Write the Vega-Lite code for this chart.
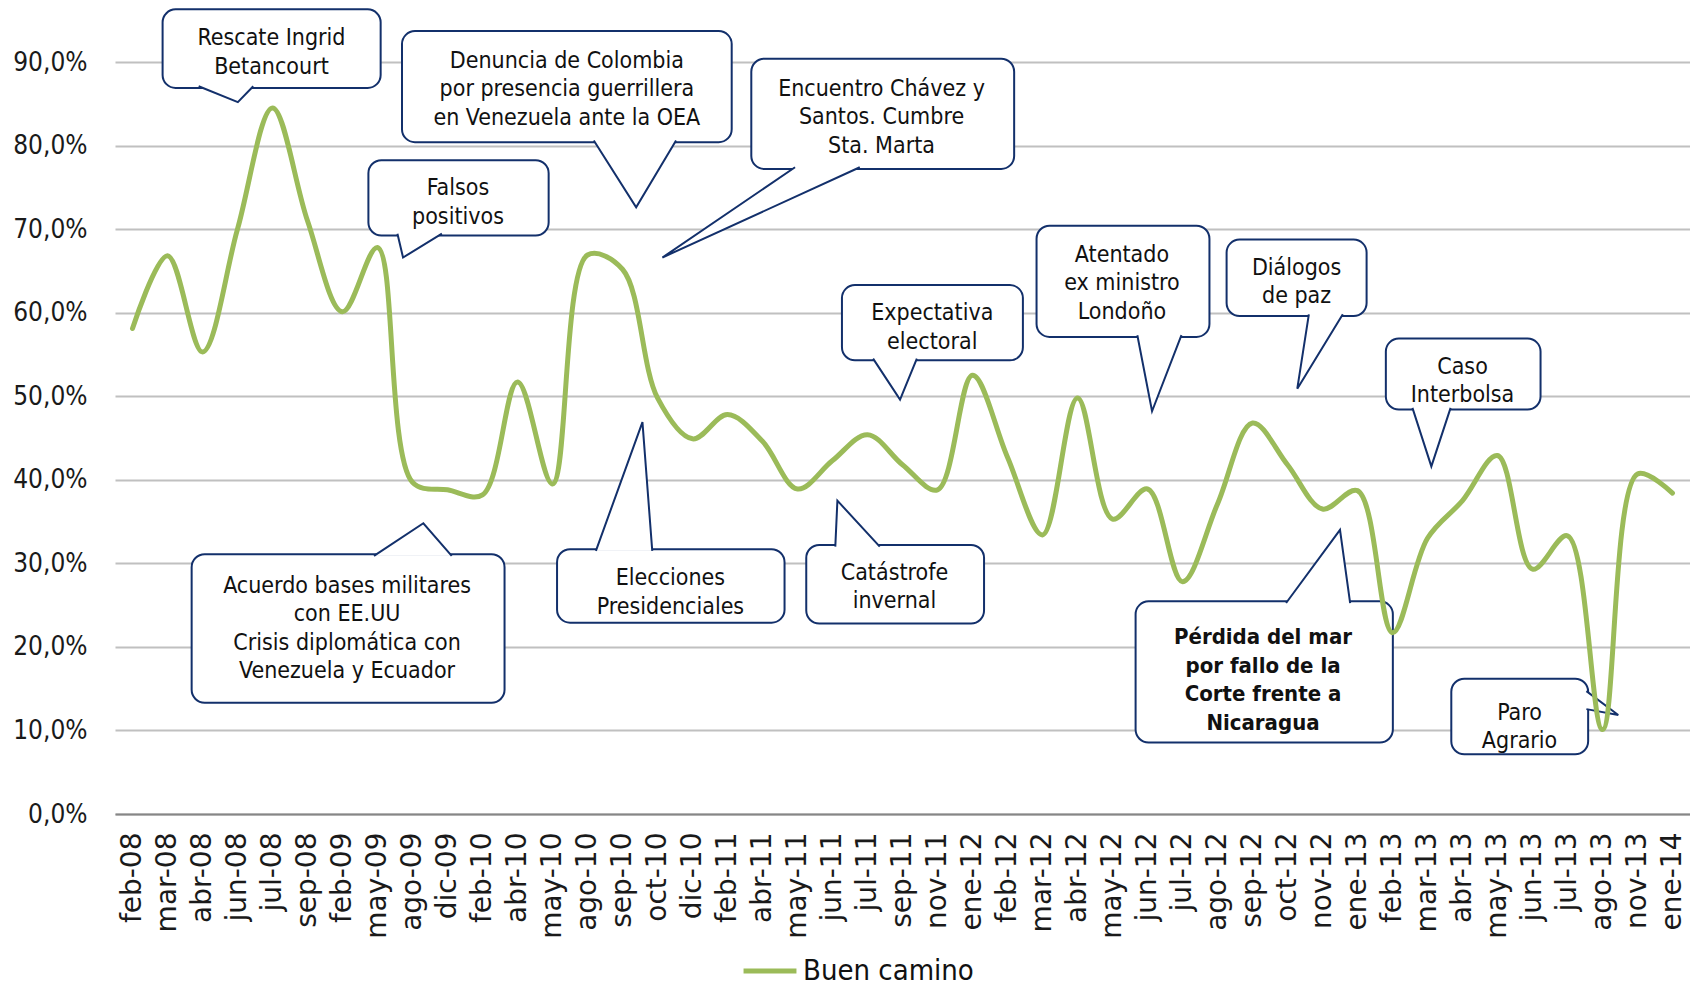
{
  "$schema": "https://vega.github.io/schema/vega-lite/v6.json",
  "width": 1575,
  "height": 752,
  "autosize": {"type": "none"},
  "padding": {"left": 115, "top": 62, "right": 0, "bottom": 172},
  "background": "white",
  "config": {
    "view": {"stroke": null},
    "axisY": {"labelFont": "DejaVu Sans Condensed", "labelFontSize": 26, "labelColor": "#1a1a1a", "labelPadding": 28, "ticks": false, "domain": false, "gridColor": "#C0C0C0", "gridWidth": 2, "title": null},
    "axisX": {"labelFont": "DejaVu Sans", "labelFontSize": 28, "labelColor": "#1a1a1a", "labelAngle": 270, "labelPadding": 18, "ticks": false, "domainColor": "#868686", "domainWidth": 2, "grid": false, "title": null, "labelOverlap": false}
  },
  "datasets": {
    "serie": [
      {"mes": "feb-08", "valor": 58.1, "serie": "Buen camino"},
      {"mes": "mar-08", "valor": 66.8, "serie": "Buen camino"},
      {"mes": "abr-08", "valor": 55.3, "serie": "Buen camino"},
      {"mes": "jun-08", "valor": 70.0, "serie": "Buen camino"},
      {"mes": "jul-08", "valor": 84.5, "serie": "Buen camino"},
      {"mes": "sep-08", "valor": 71.0, "serie": "Buen camino"},
      {"mes": "feb-09", "valor": 60.1, "serie": "Buen camino"},
      {"mes": "may-09", "valor": 67.8, "serie": "Buen camino"},
      {"mes": "ago-09", "valor": 39.7, "serie": "Buen camino"},
      {"mes": "dic-09", "valor": 38.8, "serie": "Buen camino"},
      {"mes": "feb-10", "valor": 38.2, "serie": "Buen camino"},
      {"mes": "abr-10", "valor": 51.7, "serie": "Buen camino"},
      {"mes": "may-10", "valor": 39.5, "serie": "Buen camino"},
      {"mes": "ago-10", "valor": 66.9, "serie": "Buen camino"},
      {"mes": "sep-10", "valor": 65.2, "serie": "Buen camino"},
      {"mes": "oct-10", "valor": 49.8, "serie": "Buen camino"},
      {"mes": "dic-10", "valor": 44.9, "serie": "Buen camino"},
      {"mes": "feb-11", "valor": 47.8, "serie": "Buen camino"},
      {"mes": "abr-11", "valor": 44.6, "serie": "Buen camino"},
      {"mes": "may-11", "valor": 38.9, "serie": "Buen camino"},
      {"mes": "jun-11", "valor": 42.3, "serie": "Buen camino"},
      {"mes": "jul-11", "valor": 45.4, "serie": "Buen camino"},
      {"mes": "sep-11", "valor": 41.8, "serie": "Buen camino"},
      {"mes": "nov-11", "valor": 38.8, "serie": "Buen camino"},
      {"mes": "ene-12", "valor": 52.5, "serie": "Buen camino"},
      {"mes": "feb-12", "valor": 42.7, "serie": "Buen camino"},
      {"mes": "mar-12", "valor": 33.4, "serie": "Buen camino"},
      {"mes": "abr-12", "valor": 49.8, "serie": "Buen camino"},
      {"mes": "may-12", "valor": 35.3, "serie": "Buen camino"},
      {"mes": "jun-12", "valor": 38.9, "serie": "Buen camino"},
      {"mes": "jul-12", "valor": 27.8, "serie": "Buen camino"},
      {"mes": "ago-12", "valor": 37.1, "serie": "Buen camino"},
      {"mes": "sep-12", "valor": 46.8, "serie": "Buen camino"},
      {"mes": "oct-12", "valor": 41.8, "serie": "Buen camino"},
      {"mes": "nov-12", "valor": 36.5, "serie": "Buen camino"},
      {"mes": "ene-13", "valor": 38.7, "serie": "Buen camino"},
      {"mes": "feb-13", "valor": 21.7, "serie": "Buen camino"},
      {"mes": "mar-13", "valor": 33.0, "serie": "Buen camino"},
      {"mes": "abr-13", "valor": 37.5, "serie": "Buen camino"},
      {"mes": "may-13", "valor": 42.9, "serie": "Buen camino"},
      {"mes": "jun-13", "valor": 29.3, "serie": "Buen camino"},
      {"mes": "jul-13", "valor": 33.3, "serie": "Buen camino"},
      {"mes": "ago-13", "valor": 10.1, "serie": "Buen camino"},
      {"mes": "nov-13", "valor": 40.7, "serie": "Buen camino"},
      {"mes": "ene-14", "valor": 38.4, "serie": "Buen camino"}
    ],
    "cajas": [
      {"id": 1, "x1": 0.86, "x2": 7.09, "y1": 96.3, "y2": 86.9},
      {"id": 2, "x1": 7.70, "x2": 17.12, "y1": 93.7, "y2": 80.4},
      {"id": 3, "x1": 17.68, "x2": 25.19, "y1": 90.4, "y2": 77.2},
      {"id": 4, "x1": 6.74, "x2": 11.89, "y1": 78.25, "y2": 69.23},
      {"id": 5, "x1": 1.69, "x2": 10.63, "y1": 31.1, "y2": 13.3},
      {"id": 6, "x1": 12.13, "x2": 18.63, "y1": 31.7, "y2": 22.9},
      {"id": 7, "x1": 19.25, "x2": 24.33, "y1": 32.2, "y2": 22.8},
      {"id": 8, "x1": 20.27, "x2": 25.44, "y1": 63.3, "y2": 54.3},
      {"id": 9, "x1": 25.83, "x2": 30.77, "y1": 70.4, "y2": 57.1},
      {"id": 10, "x1": 31.26, "x2": 35.26, "y1": 68.75, "y2": 59.6},
      {"id": 11, "x1": 35.81, "x2": 40.23, "y1": 56.9, "y2": 48.4},
      {"id": 12, "x1": 28.66, "x2": 36.01, "y1": 25.45, "y2": 8.55},
      {"id": 13, "x1": 37.68, "x2": 41.59, "y1": 16.2, "y2": 7.15}
    ],
    "puntas": [
      {"id": 1, "orden": 0, "x": 1.89, "y": 87.1}, {"id": 1, "orden": 1, "x": 3.01, "y": 85.2}, {"id": 1, "orden": 2, "x": 3.45, "y": 87.1},
      {"id": 2, "orden": 0, "x": 13.18, "y": 80.6}, {"id": 2, "orden": 1, "x": 14.39, "y": 72.6}, {"id": 2, "orden": 2, "x": 15.53, "y": 80.6},
      {"id": 3, "orden": 0, "x": 18.93, "y": 77.4}, {"id": 3, "orden": 1, "x": 15.14, "y": 66.6}, {"id": 3, "orden": 2, "x": 20.78, "y": 77.4},
      {"id": 4, "orden": 0, "x": 7.57, "y": 69.45}, {"id": 4, "orden": 1, "x": 7.73, "y": 66.6}, {"id": 4, "orden": 2, "x": 8.84, "y": 69.45},
      {"id": 5, "orden": 0, "x": 6.90, "y": 30.9}, {"id": 5, "orden": 1, "x": 8.31, "y": 34.8}, {"id": 5, "orden": 2, "x": 9.12, "y": 30.9},
      {"id": 6, "orden": 0, "x": 13.24, "y": 31.5}, {"id": 6, "orden": 1, "x": 14.57, "y": 46.9}, {"id": 6, "orden": 2, "x": 14.85, "y": 31.5},
      {"id": 7, "orden": 0, "x": 20.08, "y": 32.0}, {"id": 7, "orden": 1, "x": 20.14, "y": 37.5}, {"id": 7, "orden": 2, "x": 21.35, "y": 32.0},
      {"id": 8, "orden": 0, "x": 21.16, "y": 54.5}, {"id": 8, "orden": 1, "x": 21.93, "y": 49.6}, {"id": 8, "orden": 2, "x": 22.41, "y": 54.5},
      {"id": 9, "orden": 0, "x": 28.71, "y": 57.3}, {"id": 9, "orden": 1, "x": 29.13, "y": 48.2}, {"id": 9, "orden": 2, "x": 29.97, "y": 57.3},
      {"id": 10, "orden": 0, "x": 33.61, "y": 59.8}, {"id": 10, "orden": 1, "x": 33.28, "y": 50.9}, {"id": 10, "orden": 2, "x": 34.58, "y": 59.8},
      {"id": 11, "orden": 0, "x": 36.57, "y": 48.6}, {"id": 11, "orden": 1, "x": 37.11, "y": 41.6}, {"id": 11, "orden": 2, "x": 37.66, "y": 48.6},
      {"id": 12, "orden": 0, "x": 32.96, "y": 25.25}, {"id": 12, "orden": 1, "x": 34.50, "y": 34.0}, {"id": 12, "orden": 2, "x": 34.79, "y": 25.25},
      {"id": 13, "orden": 0, "x": 41.54, "y": 14.7}, {"id": 13, "orden": 1, "x": 42.45, "y": 11.85}, {"id": 13, "orden": 2, "x": 41.54, "y": 12.55}
    ],
    "textos": [
      {"id": 1, "x": 3.97, "y": 92.83, "texto": "Rescate Ingrid|Betancourt"},
      {"id": 2, "x": 12.41, "y": 90.12, "texto": "Denuncia de Colombia|por presencia guerrillera|en Venezuela ante la OEA"},
      {"id": 3, "x": 21.4, "y": 86.77, "texto": "Encuentro Chávez y|Santos. Cumbre|Sta. Marta"},
      {"id": 4, "x": 9.3, "y": 74.91, "texto": "Falsos|positivos"},
      {"id": 5, "x": 6.13, "y": 27.33, "texto": "Acuerdo bases militares|con EE.UU|Crisis diplomática con|Venezuela y Ecuador"},
      {"id": 6, "x": 15.37, "y": 28.24, "texto": "Elecciones|Presidenciales"},
      {"id": 7, "x": 21.77, "y": 28.88, "texto": "Catástrofe|invernal"},
      {"id": 8, "x": 22.85, "y": 59.95, "texto": "Expectativa|electoral"},
      {"id": 9, "x": 28.27, "y": 66.92, "texto": "Atentado|ex ministro|Londoño"},
      {"id": 10, "x": 33.26, "y": 65.37, "texto": "Diálogos|de paz"},
      {"id": 11, "x": 38.0, "y": 53.51, "texto": "Caso|Interbolsa"},
      {"id": 12, "x": 32.3, "y": 21.14, "texto": "Pérdida del mar|por fallo de la|Corte frente a|Nicaragua"},
      {"id": 13, "x": 39.63, "y": 12.12, "texto": "Paro|Agrario"}
    ]
  },
  "layer": [
    {
      "data": {"name": "cajas"},
      "mark": {"type": "rect", "fill": "white", "stroke": "#13306B", "strokeWidth": 2, "cornerRadius": 13},
      "encoding": {
        "x": {"field": "x1", "type": "quantitative", "scale": {"domain": [-0.5, 44.5], "nice": false, "zero": false}, "axis": null},
        "x2": {"field": "x2"},
        "y": {"field": "y1", "type": "quantitative", "scale": {"domain": [0, 90], "nice": false}},
        "y2": {"field": "y2"}
      }
    },
    {
      "data": {"name": "puntas"},
      "mark": {"type": "line", "interpolate": "linear", "stroke": "#13306B", "strokeWidth": 2, "fill": "white", "fillOpacity": 1, "strokeJoin": "miter"},
      "encoding": {
        "x": {"field": "x", "type": "quantitative", "scale": {"domain": [-0.5, 44.5], "nice": false, "zero": false}, "axis": null},
        "y": {"field": "y", "type": "quantitative", "scale": {"domain": [0, 90], "nice": false}},
        "detail": {"field": "id"},
        "order": {"field": "orden"}
      }
    },
    {
      "data": {"name": "textos"},
      "transform": [{"filter": "datum.id != 12"}],
      "mark": {"type": "text", "font": "DejaVu Sans Condensed", "fontSize": 23, "lineHeight": 28.5, "lineBreak": "|", "align": "center", "baseline": "middle", "color": "#111111"},
      "encoding": {
        "x": {"field": "x", "type": "quantitative", "scale": {"domain": [-0.5, 44.5], "nice": false, "zero": false}, "axis": null},
        "y": {"field": "y", "type": "quantitative", "scale": {"domain": [0, 90], "nice": false}},
        "text": {"field": "texto"}
      }
    },
    {
      "data": {"name": "textos"},
      "transform": [{"filter": "datum.id == 12"}],
      "mark": {"type": "text", "font": "DejaVu Sans Condensed", "fontWeight": "bold", "fontSize": 22, "lineHeight": 28.5, "lineBreak": "|", "align": "center", "baseline": "middle", "color": "#111111"},
      "encoding": {
        "x": {"field": "x", "type": "quantitative", "scale": {"domain": [-0.5, 44.5], "nice": false, "zero": false}, "axis": null},
        "y": {"field": "y", "type": "quantitative", "scale": {"domain": [0, 90], "nice": false}},
        "text": {"field": "texto"}
      }
    },
    {
      "data": {"name": "serie"},
      "mark": {"type": "line", "interpolate": "catmull-rom", "strokeWidth": 5, "strokeCap": "round", "strokeJoin": "round"},
      "encoding": {
        "x": {"field": "mes", "type": "ordinal", "sort": null, "scale": {"type": "point", "padding": 0.5}},
        "y": {"field": "valor", "type": "quantitative", "scale": {"domain": [0, 90], "nice": false},
              "axis": {"values": [0, 10, 20, 30, 40, 50, 60, 70, 80, 90], "labelExpr": "replace(format(datum.value, '.1f'), '.', ',') + '%'"}},
        "color": {"field": "serie", "type": "nominal", "scale": {"range": ["#9BBB59"]},
                  "legend": {"title": null, "orient": "none", "legendX": 626, "legendY": 880, "symbolType": "stroke", "symbolSize": 2800, "symbolStrokeWidth": 5, "labelFont": "DejaVu Sans Condensed", "labelFontSize": 29, "labelColor": "#111111", "labelOffset": 4, "labelLimit": 500}}
      }
    }
  ],
  "resolve": {"scale": {"x": "independent"}}
}
